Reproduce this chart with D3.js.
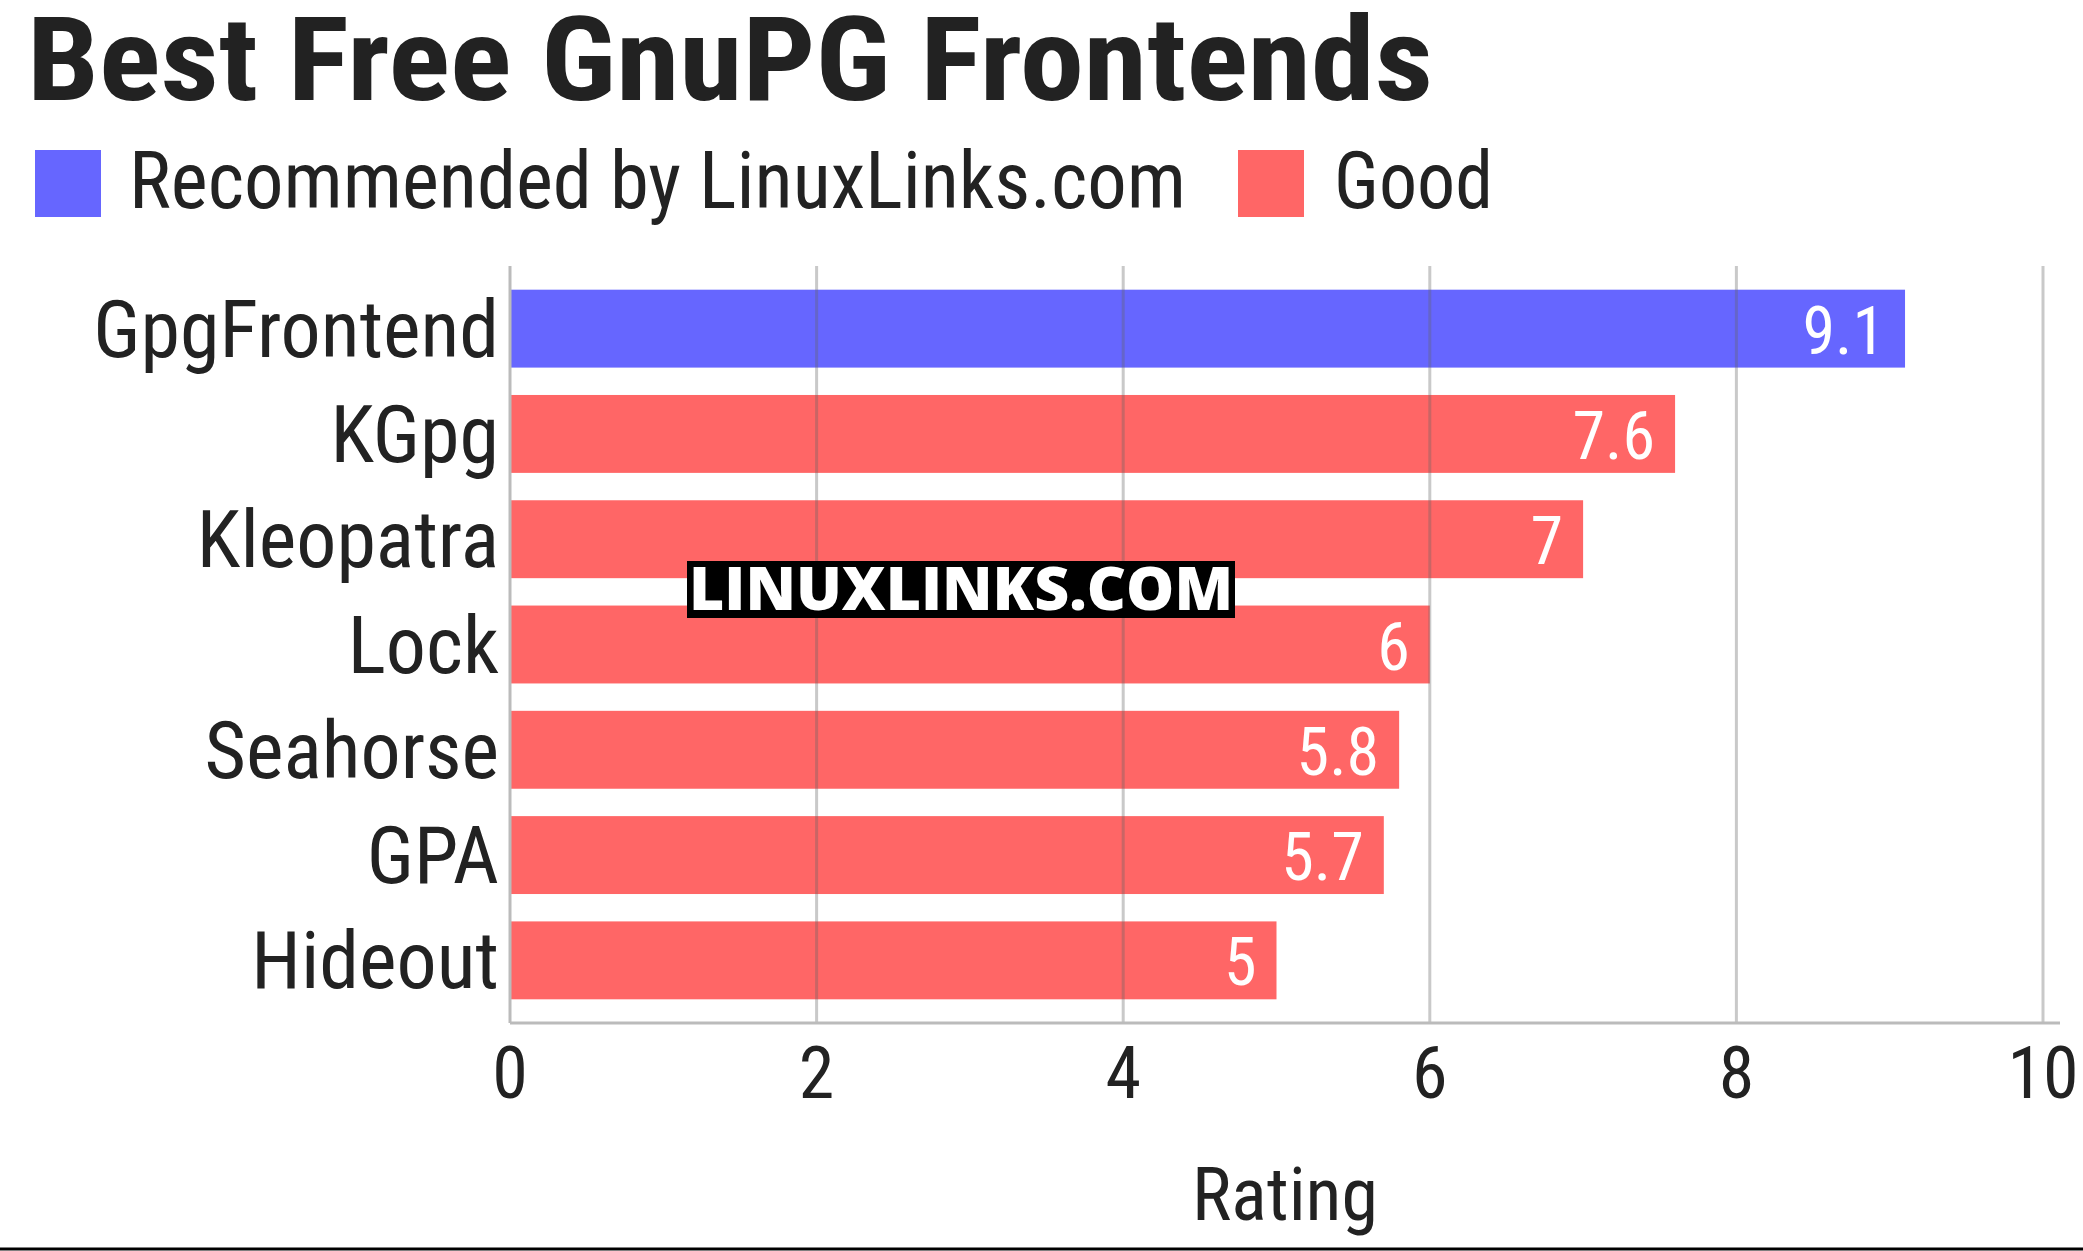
<!DOCTYPE html><html><head><meta charset="utf-8">
<script src="https://cdn.jsdelivr.net/npm/d3@7"></script>
<style>body{margin:0;background:#fff}</style></head><body>
<script>
const categories=["GpgFrontend","KGpg","Kleopatra","Lock","Seahorse","GPA","Hideout"];
const values=[9.1,7.6,7,6,5.8,5.7,5];
const groups=["Recommended","Good","Good","Good","Good","Good","Good"];
const legendLabels=["Recommended by LinuxLinks.com","Good"];
const ticks=[0,2,4,6,8,10];
const W=2083,H=1251,F="'Liberation Sans Narrow','Roboto Condensed',Roboto,sans-serif";
const col={Recommended:"#6666ff",Good:"#ff6666"};
const svg=d3.select("body").append("svg").attr("width",W).attr("height",H);
const x=d3.scaleLinear().domain([0,10]).range([510,2043]);
const y=d3.scaleBand().domain(categories).range([276,1013]).paddingInner(0.26).paddingOuter(0.13);
svg.append("text").attr("x",27).attr("y",100).attr("font-family",F).attr("font-weight","bold").attr("font-size",116).attr("fill","#222").attr("textLength",1406).attr("lengthAdjust","spacingAndGlyphs").text("Best Free GnuPG Frontends");
const lg=[{x:35,tx:129,tw:1057},{x:1238,tx:1334,tw:159}];
legendLabels.forEach((l,i)=>{svg.append("rect").attr("x",lg[i].x).attr("y",150).attr("width",66).attr("height",67).attr("fill",i?col.Good:col.Recommended);
svg.append("text").attr("x",lg[i].tx).attr("y",208).attr("font-family",F).attr("font-size",80).attr("fill","#222").attr("textLength",lg[i].tw).attr("lengthAdjust","spacingAndGlyphs").text(l);});
svg.selectAll(".bar").data(categories).enter().append("rect").attr("x",x(0)).attr("y",d=>y(d)).attr("height",y.bandwidth()).attr("width",(d,i)=>x(values[i])-x(0)).attr("fill",(d,i)=>col[groups[i]]);
svg.selectAll(".grid").data(ticks.slice(1)).enter().append("line").attr("x1",d=>x(d)).attr("x2",d=>x(d)).attr("y1",266).attr("y2",1023).attr("stroke","rgba(100,100,100,0.35)").attr("stroke-width",3);
svg.append("line").attr("x1",x(0)).attr("x2",2060).attr("y1",1023).attr("y2",1023).attr("stroke","#bbb").attr("stroke-width",3);
svg.append("line").attr("x1",x(0)).attr("x2",x(0)).attr("y1",266).attr("y2",1023).attr("stroke","#bbb").attr("stroke-width",3);
svg.selectAll(".cl").data(categories).enter().append("text").attr("x",499).attr("y",d=>y(d)+y.bandwidth()/2+28).attr("text-anchor","end").attr("font-family",F).attr("font-size",80).attr("fill","#222").text(d=>d);
svg.selectAll(".vl").data(categories).enter().append("text").attr("x",(d,i)=>x(values[i])-20).attr("y",d=>y(d)+y.bandwidth()/2+25).attr("text-anchor","end").attr("font-family",F).attr("font-size",66).attr("fill","#fff").text((d,i)=>values[i]);
svg.selectAll(".tl").data(ticks).enter().append("text").attr("x",d=>x(d)).attr("y",1098).attr("text-anchor","middle").attr("font-family",F).attr("font-size",72).attr("fill","#222").text(d=>d);
svg.append("text").attr("x",1285).attr("y",1220).attr("text-anchor","middle").attr("font-family",F).attr("font-size",74).attr("fill","#222").text("Rating");
svg.append("rect").attr("x",687).attr("y",561).attr("width",548).attr("height",57).attr("fill","#000");
svg.append("text").attr("x",961).attr("y",610).attr("text-anchor","middle").attr("font-family","'Open Sans','DejaVu Sans',sans-serif").attr("font-weight","800").attr("font-size",60).attr("fill","#fff").attr("stroke","#000").attr("stroke-width",5).attr("paint-order","stroke").attr("textLength",544).attr("lengthAdjust","spacingAndGlyphs").text("LINUXLINKS.COM");
svg.append("line").attr("x1",0).attr("x2",W).attr("y1",1249).attr("y2",1249).attr("stroke","#000").attr("stroke-width",3);
</script></body></html>
